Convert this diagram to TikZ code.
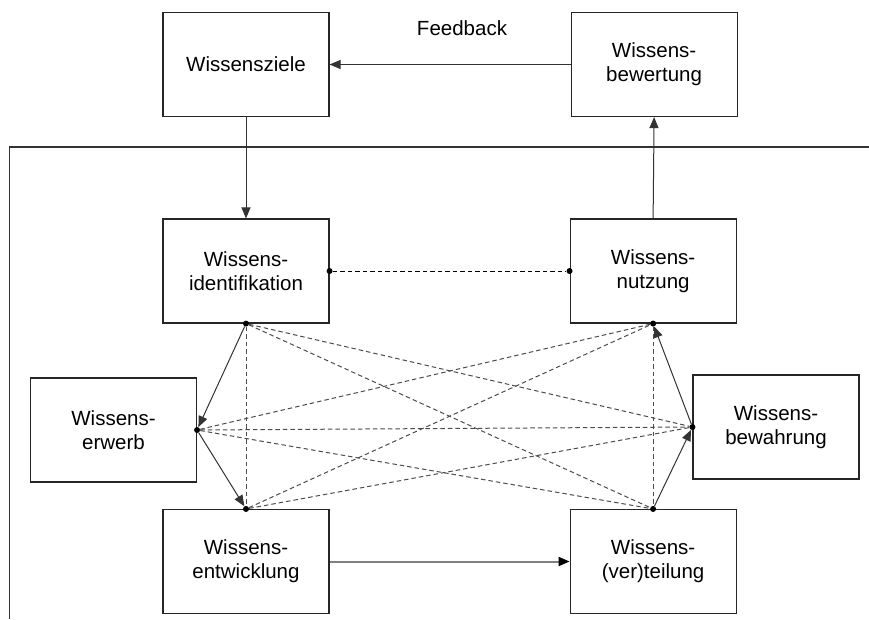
\documentclass[tikz,border=0pt]{standalone}
\usepackage{fontspec}
\setmainfont{Liberation Sans}
\usetikzlibrary{positioning,arrows.meta}
\tikzset{
  >={Stealth[length=11pt,width=9pt,inset=0pt]},
  box/.style={draw=black!85, line width=1.1pt, minimum width=166pt, minimum height=104pt,
    inner sep=0pt, align=center, font=\fontsize{20.5}{24}\selectfont},
}

\begin{document}
\begin{tikzpicture}[
  x=1pt, y=-1pt,
  link/.style={draw=black!80, line width=1pt},
  cross/.style={draw=black!70, line width=1pt, dash pattern=on 4.5pt off 3pt},
  hub/.style={circle, fill=black, inner sep=0pt, minimum size=6pt},
]
\useasboundingbox (0,0) rectangle (869,619);

% frame round the core processes
\draw[black!80, line width=1.5pt] (9.5,619) -- (9.5,147) -- (869,147);

\node[box] (ziele) at (246,64.5) {Wissensziele};
\node[box, right=241pt of ziele] (bewertung) {Wissens-\\bewertung};
\node[font=\fontsize{20.5}{24}\selectfont] (feedback) at (462,28) {Feedback};

\node[box] (ident) at (246,271) {Wissens-\\identifikation};
\node[box, right=240pt of ident] (nutzung) {Wissens-\\nutzung};
\node[box] (erwerb) at (113.5,430) {Wissens-\\erwerb};
\node[box] (bewahrung) at (776,427) {Wissens-\\bewahrung};
\node[box] (entw) at (246,561.5) {Wissens-\\entwicklung};
\node[box, right=240pt of entw] (verteil) {Wissens-\\(ver)teilung};

% dots where the links meet the boxes
\foreach \n/\a in {ident/south, nutzung/south, erwerb/east, bewahrung/west,
                   entw/north, verteil/north, ident/east, nutzung/west}
  \node[hub] (\n-\a) at (\n.\a) {};

% feedback loop
\draw[->, link] (bewertung) -- (ziele);
\draw[->, link] (ziele) -- (ident);
\draw[->, link] (nutzung.north) -- (bewertung.south);

% cross links
\draw[cross, draw=black] (ident-east) -- (nutzung-west);
\foreach \a/\b in {ident-south/entw-north, ident-south/bewahrung-west, ident-south/verteil-north,
                   erwerb-east/nutzung-south, erwerb-east/bewahrung-west, erwerb-east/verteil-north,
                   entw-north/nutzung-south, entw-north/bewahrung-west, nutzung-south/verteil-north}
  \draw[cross] (\a) -- (\b);

\path
(ident-south) edge[->, link] (erwerb-east)
(erwerb-east) edge[->, link] (entw-north)
(verteil-north) edge[->, link] (bewahrung-west)
(bewahrung-west) edge[->, link] (nutzung-south);

\draw[-{Stealth[length=11pt,width=9pt,inset=0pt,color=black]}, draw=black!50, line width=2pt] (entw) -- (verteil);

\end{tikzpicture}
\end{document}
